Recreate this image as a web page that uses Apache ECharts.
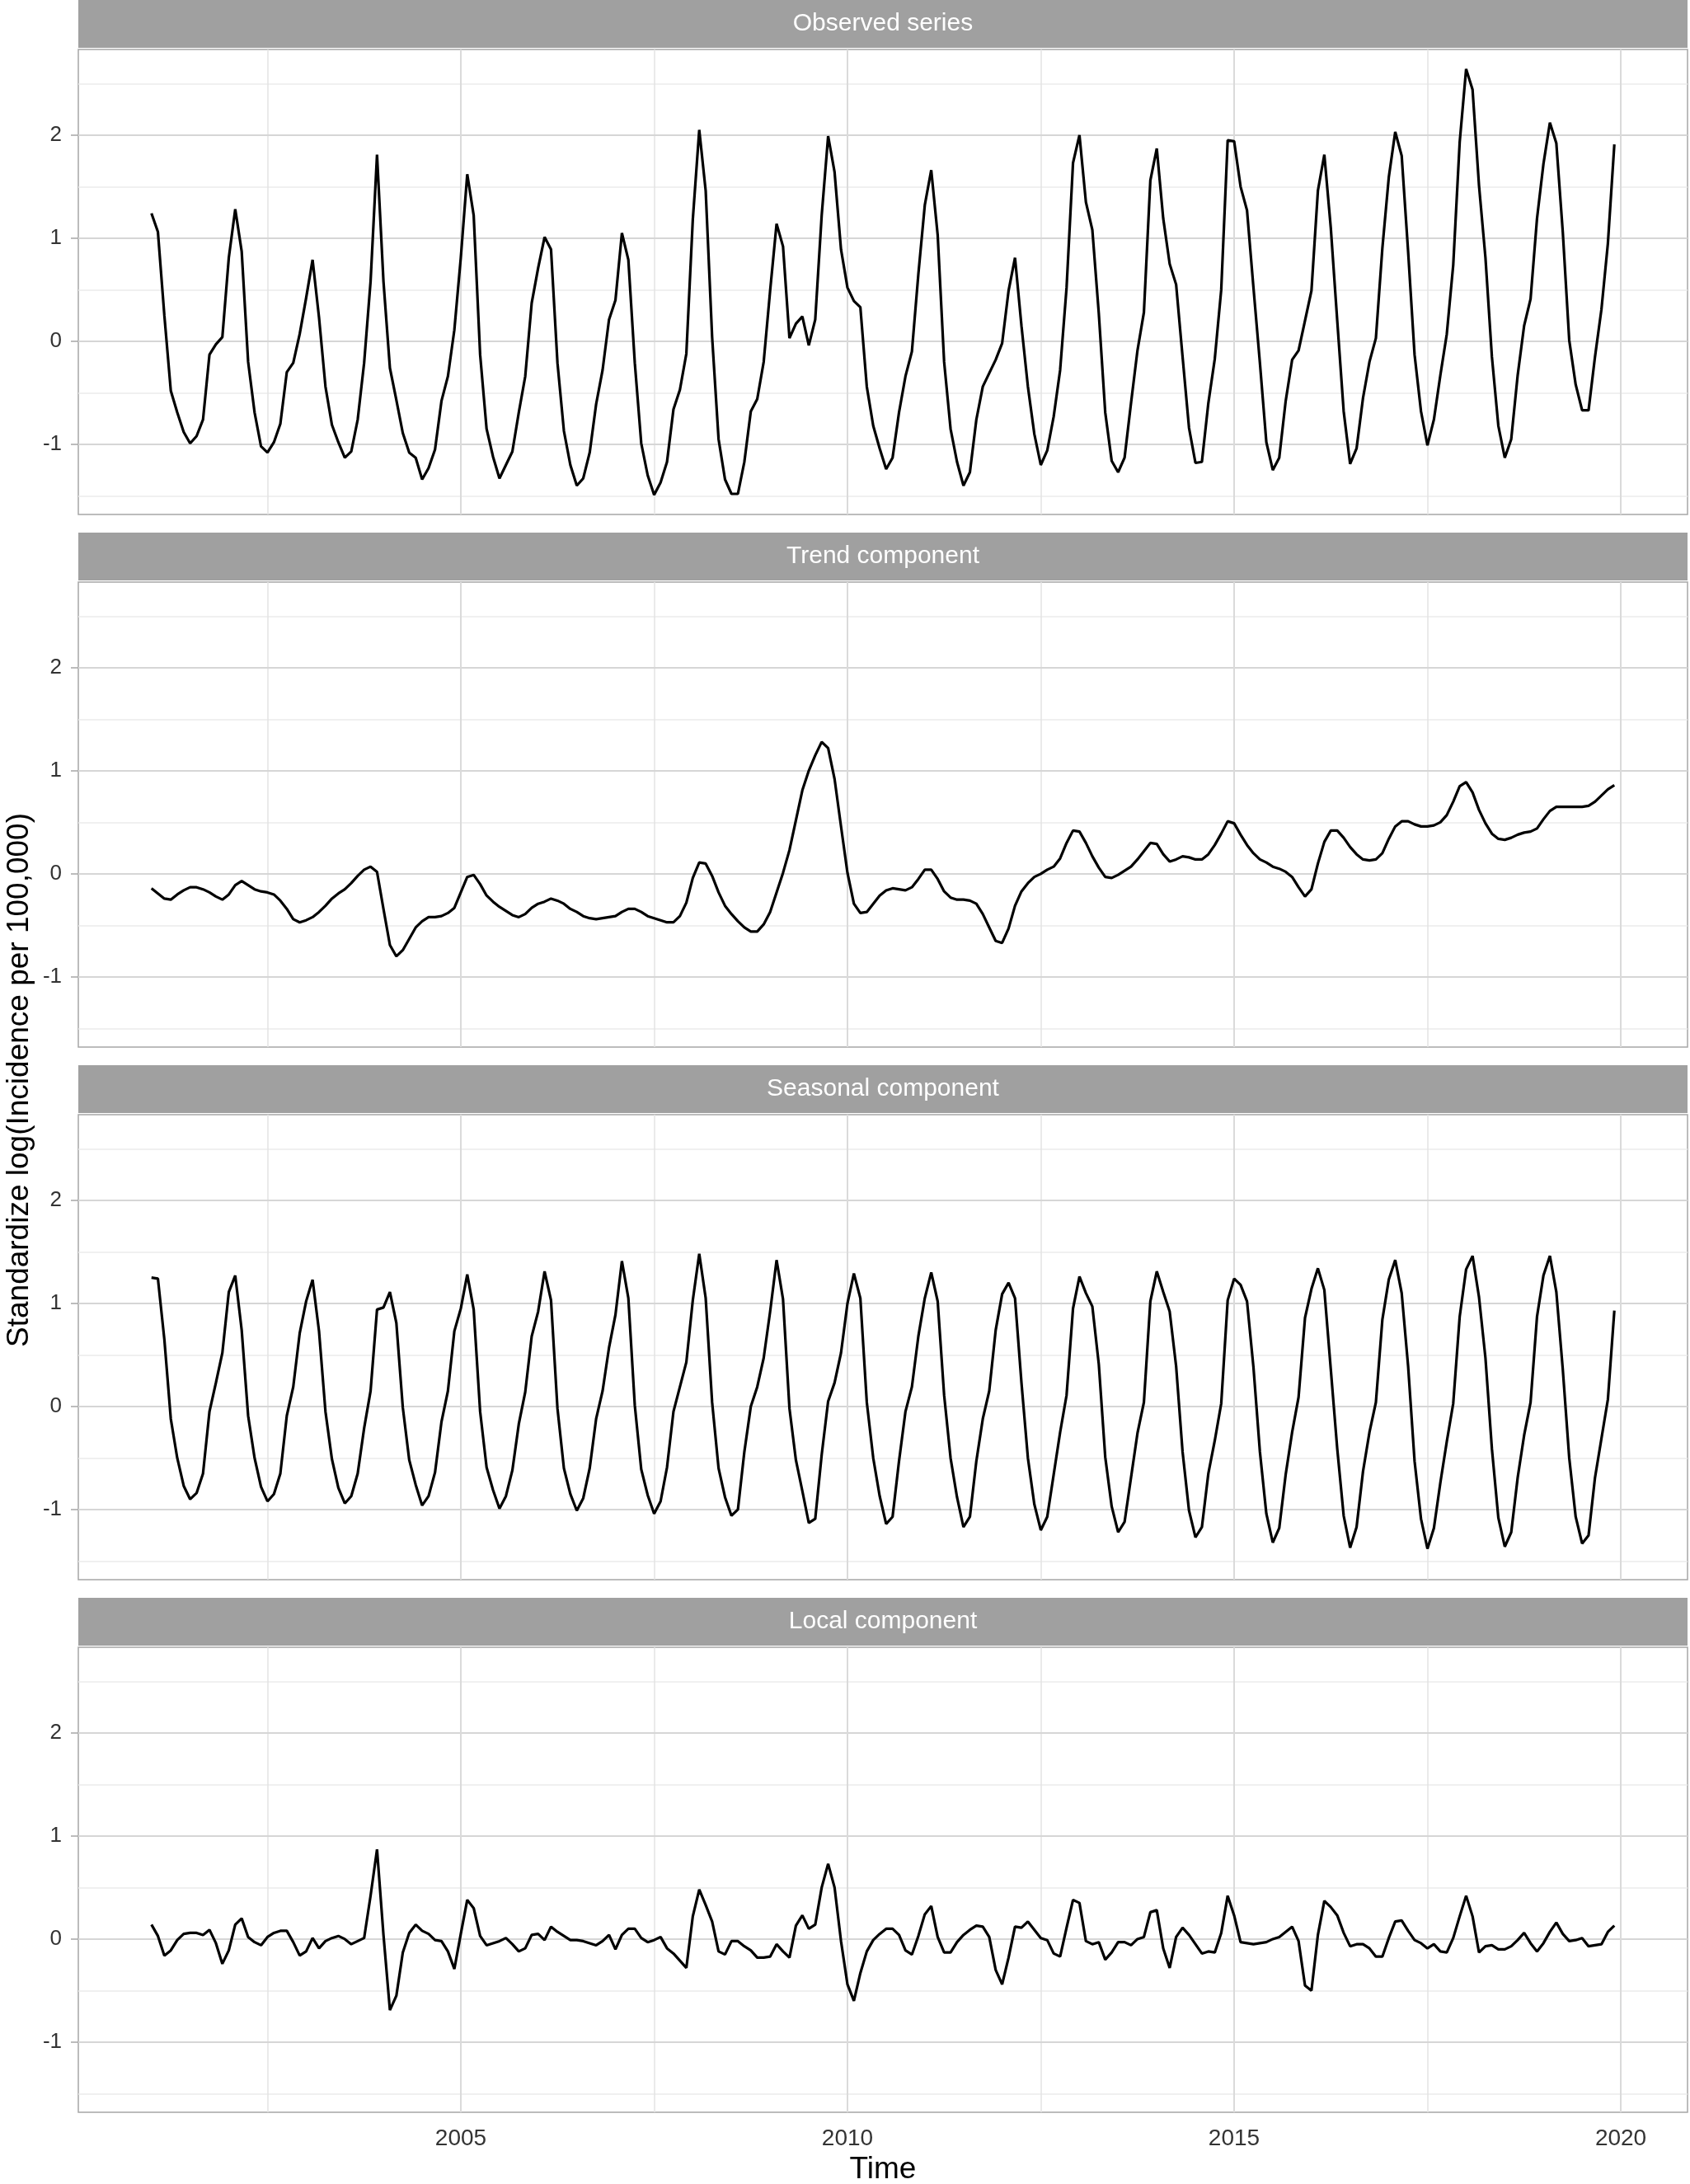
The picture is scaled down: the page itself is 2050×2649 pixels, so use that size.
<!DOCTYPE html>
<html>
<head>
<meta charset="utf-8">
<script src="https://cdn.jsdelivr.net/npm/echarts@6/dist/echarts.min.js"></script>
<style>
  html, body { margin: 0; padding: 0; background: #fff; }
  #main { width: 2050px; height: 2649px; }
</style>
</head>
<body>
<div id="main"></div>
<script>
// monthly values, Jan 2001 .. Dec 2019
const startYear = 2001;
const observed = [
  1.24, 1.06, 0.25, -0.48, -0.69, -0.88, -0.99, -0.92, -0.76, -0.13, -0.03, 0.04,
  0.81, 1.28, 0.87, -0.20, -0.69, -1.02, -1.08, -0.98, -0.80, -0.30, -0.21, 0.07,
  0.42, 0.79, 0.23, -0.44, -0.81, -0.98, -1.13, -1.07, -0.76, -0.21, 0.58, 1.81,
  0.58, -0.26, -0.57, -0.89, -1.08, -1.13, -1.34, -1.23, -1.05, -0.58, -0.34, 0.11,
  0.81, 1.62, 1.22, -0.13, -0.85, -1.12, -1.33, -1.20, -1.07, -0.69, -0.34, 0.37,
  0.71, 1.01, 0.89, -0.21, -0.87, -1.20, -1.40, -1.33, -1.08, -0.61, -0.28, 0.21,
  0.40, 1.05, 0.79, -0.21, -0.99, -1.30, -1.49, -1.37, -1.17, -0.66, -0.47, -0.12,
  1.18, 2.05, 1.46, 0.04, -0.95, -1.34, -1.48, -1.48, -1.17, -0.68, -0.56, -0.20,
  0.49, 1.14, 0.92, 0.03, 0.17, 0.24, -0.04, 0.21, 1.22, 1.99, 1.64, 0.89,
  0.52, 0.39, 0.33, -0.44, -0.82, -1.04, -1.24, -1.13, -0.69, -0.34, -0.10, 0.65,
  1.32, 1.66, 1.03, -0.20, -0.85, -1.17, -1.40, -1.27, -0.76, -0.44, -0.31, -0.18,
  -0.02, 0.49, 0.81, 0.15, -0.44, -0.90, -1.20, -1.06, -0.73, -0.28, 0.52, 1.73,
  2.00, 1.35, 1.08, 0.27, -0.69, -1.16, -1.27, -1.13, -0.60, -0.09, 0.28, 1.56,
  1.87, 1.19, 0.75, 0.55, -0.15, -0.84, -1.18, -1.17, -0.60, -0.17, 0.50, 1.95,
  1.94, 1.50, 1.27, 0.52, -0.21, -0.98, -1.25, -1.13, -0.58, -0.18, -0.09, 0.20,
  0.49, 1.46, 1.81, 1.10, 0.20, -0.68, -1.19, -1.04, -0.55, -0.20, 0.03, 0.90,
  1.59, 2.03, 1.80, 0.87, -0.13, -0.68, -1.01, -0.76, -0.33, 0.07, 0.74, 1.93,
  2.64, 2.44, 1.51, 0.81, -0.15, -0.82, -1.13, -0.95, -0.33, 0.15, 0.41, 1.19,
  1.72, 2.12, 1.92, 1.06, 0.01, -0.42, -0.67, -0.67, -0.15, 0.31, 0.95, 1.91
];
const trend = [
  -0.14, -0.19, -0.24, -0.25, -0.20, -0.16, -0.13, -0.13, -0.15, -0.18, -0.22, -0.25,
  -0.20, -0.11, -0.07, -0.11, -0.15, -0.17, -0.18, -0.20, -0.26, -0.34, -0.44, -0.47,
  -0.45, -0.42, -0.37, -0.31, -0.24, -0.19, -0.15, -0.09, -0.02, 0.04, 0.07, 0.02,
  -0.34, -0.69, -0.80, -0.74, -0.63, -0.52, -0.46, -0.42, -0.42, -0.41, -0.38, -0.33,
  -0.18, -0.03, -0.01, -0.10, -0.21, -0.27, -0.32, -0.36, -0.40, -0.42, -0.39, -0.33,
  -0.29, -0.27, -0.24, -0.26, -0.29, -0.34, -0.37, -0.41, -0.43, -0.44, -0.43, -0.42,
  -0.41, -0.37, -0.34, -0.34, -0.37, -0.41, -0.43, -0.45, -0.47, -0.47, -0.41, -0.28,
  -0.04, 0.11, 0.10, -0.02, -0.18, -0.31, -0.39, -0.46, -0.52, -0.56, -0.56, -0.49,
  -0.37, -0.18, 0.01, 0.23, 0.52, 0.81, 1.00, 1.15, 1.28, 1.22, 0.92, 0.46,
  0.01, -0.29, -0.38, -0.37, -0.29, -0.21, -0.16, -0.14, -0.15, -0.16, -0.13, -0.05,
  0.04, 0.04, -0.05, -0.17, -0.23, -0.25, -0.25, -0.26, -0.29, -0.39, -0.52, -0.65,
  -0.67, -0.53, -0.31, -0.17, -0.09, -0.03, 0.00, 0.04, 0.07, 0.15, 0.30, 0.42,
  0.41, 0.30, 0.17, 0.06, -0.03, -0.04, -0.01, 0.03, 0.07, 0.14, 0.22, 0.30,
  0.29, 0.19, 0.12, 0.14, 0.17, 0.16, 0.14, 0.14, 0.19, 0.28, 0.39, 0.51,
  0.49, 0.38, 0.28, 0.20, 0.14, 0.11, 0.07, 0.05, 0.02, -0.03, -0.13, -0.22,
  -0.15, 0.10, 0.31, 0.42, 0.42, 0.35, 0.26, 0.19, 0.14, 0.13, 0.14, 0.20,
  0.34, 0.46, 0.51, 0.51, 0.48, 0.46, 0.46, 0.47, 0.50, 0.57, 0.70, 0.85,
  0.89, 0.79, 0.62, 0.49, 0.39, 0.34, 0.33, 0.35, 0.38, 0.40, 0.41, 0.44,
  0.53, 0.61, 0.65, 0.65, 0.65, 0.65, 0.65, 0.66, 0.70, 0.76, 0.82, 0.86
];
const seasonal = [
  1.25, 1.24, 0.65, -0.12, -0.50, -0.77, -0.90, -0.84, -0.65, -0.05, 0.23, 0.52,
  1.11, 1.27, 0.74, -0.09, -0.50, -0.78, -0.92, -0.85, -0.65, -0.09, 0.19, 0.71,
  1.02, 1.23, 0.73, -0.05, -0.51, -0.79, -0.94, -0.87, -0.65, -0.21, 0.15, 0.94,
  0.96, 1.11, 0.81, -0.01, -0.52, -0.76, -0.96, -0.87, -0.64, -0.15, 0.15, 0.73,
  0.95, 1.28, 0.94, -0.05, -0.59, -0.81, -0.99, -0.87, -0.62, -0.17, 0.14, 0.68,
  0.92, 1.31, 1.03, -0.02, -0.60, -0.85, -1.01, -0.89, -0.60, -0.12, 0.15, 0.57,
  0.89, 1.41, 1.05, 0.01, -0.61, -0.86, -1.04, -0.92, -0.59, -0.05, 0.19, 0.43,
  1.03, 1.48, 1.05, 0.04, -0.60, -0.88, -1.06, -1.00, -0.44, 0.00, 0.19, 0.47,
  0.92, 1.42, 1.04, -0.02, -0.52, -0.82, -1.13, -1.09, -0.47, 0.05, 0.23, 0.52,
  1.00, 1.29, 1.05, 0.04, -0.50, -0.87, -1.14, -1.07, -0.53, -0.05, 0.19, 0.68,
  1.05, 1.30, 1.02, 0.11, -0.50, -0.88, -1.17, -1.07, -0.53, -0.12, 0.15, 0.74,
  1.09, 1.20, 1.05, 0.23, -0.50, -0.95, -1.20, -1.07, -0.66, -0.25, 0.11, 0.95,
  1.26, 1.10, 0.97, 0.41, -0.49, -0.97, -1.22, -1.12, -0.69, -0.26, 0.04, 1.02,
  1.31, 1.11, 0.92, 0.39, -0.44, -1.01, -1.27, -1.17, -0.65, -0.33, 0.03, 1.03,
  1.24, 1.18, 1.02, 0.38, -0.44, -1.04, -1.32, -1.18, -0.66, -0.25, 0.09, 0.86,
  1.14, 1.34, 1.13, 0.36, -0.41, -1.06, -1.37, -1.17, -0.63, -0.25, 0.04, 0.84,
  1.23, 1.42, 1.10, 0.39, -0.53, -1.09, -1.38, -1.18, -0.74, -0.34, 0.03, 0.87,
  1.33, 1.46, 1.06, 0.47, -0.41, -1.08, -1.36, -1.22, -0.69, -0.28, 0.04, 0.87,
  1.27, 1.46, 1.11, 0.36, -0.50, -1.07, -1.33, -1.25, -0.69, -0.31, 0.07, 0.93
];
const local = [
  0.14, 0.03, -0.16, -0.11, -0.01, 0.05, 0.06, 0.06, 0.04, 0.09, -0.04, -0.24,
  -0.11, 0.14, 0.20, 0.02, -0.03, -0.06, 0.02, 0.06, 0.08, 0.08, -0.03, -0.16,
  -0.12, 0.01, -0.09, -0.02, 0.01, 0.03, 0.00, -0.05, -0.02, 0.01, 0.42, 0.87,
  0.04, -0.69, -0.55, -0.13, 0.06, 0.14, 0.08, 0.05, -0.01, -0.02, -0.12, -0.29,
  0.05, 0.38, 0.30, 0.03, -0.06, -0.04, -0.02, 0.01, -0.05, -0.12, -0.09, 0.04,
  0.05, -0.01, 0.12, 0.07, 0.03, -0.01, -0.01, -0.02, -0.04, -0.06, -0.02, 0.04,
  -0.10, 0.04, 0.10, 0.10, 0.01, -0.03, -0.01, 0.02, -0.09, -0.14, -0.21, -0.28,
  0.22, 0.48, 0.33, 0.17, -0.12, -0.15, -0.02, -0.02, -0.07, -0.11, -0.18, -0.18,
  -0.17, -0.05, -0.12, -0.18, 0.13, 0.23, 0.10, 0.14, 0.50, 0.73, 0.50, -0.02,
  -0.44, -0.60, -0.33, -0.12, -0.01, 0.05, 0.10, 0.10, 0.04, -0.11, -0.15, 0.03,
  0.24, 0.32, 0.02, -0.13, -0.13, -0.03, 0.04, 0.09, 0.13, 0.12, 0.02, -0.30,
  -0.44, -0.18, 0.12, 0.11, 0.17, 0.09, 0.01, -0.01, -0.14, -0.17, 0.11, 0.38,
  0.35, -0.02, -0.05, -0.03, -0.20, -0.13, -0.03, -0.03, -0.06, 0.00, 0.02, 0.26,
  0.28, -0.09, -0.28, 0.02, 0.11, 0.04, -0.05, -0.14, -0.12, -0.13, 0.06, 0.42,
  0.23, -0.03, -0.04, -0.05, -0.04, -0.03, 0.00, 0.02, 0.07, 0.12, -0.02, -0.45,
  -0.50, 0.04, 0.37, 0.31, 0.23, 0.06, -0.07, -0.05, -0.05, -0.09, -0.17, -0.17,
  0.01, 0.17, 0.18, 0.08, -0.01, -0.04, -0.09, -0.05, -0.12, -0.13, 0.01, 0.22,
  0.42, 0.22, -0.13, -0.07, -0.06, -0.10, -0.10, -0.07, -0.01, 0.06, -0.04, -0.12,
  -0.04, 0.07, 0.16, 0.05, -0.02, -0.01, 0.01, -0.07, -0.06, -0.05, 0.07, 0.13
];

const panelTitles = ['Observed series', 'Trend component', 'Seasonal component', 'Local component'];
const panelValues = [observed, trend, seasonal, local];

// axis ticks and grid lines
const yTicks = [-1, 0, 1, 2];
const yMinor = [-1.5, -0.5, 0.5, 1.5, 2.5];
const xTicks = [2005, 2010, 2015, 2020];
const xMinor = [2002.5, 2007.5, 2012.5, 2017.5];

const FONT = '"Liberation Sans", Arial, Helvetica, sans-serif';
const plotLeft = 95, plotWidth = 1952, plotHeight = 564;
const plotTops = [60, 706, 1352, 1998];

const chart = echarts.init(document.getElementById('main'), null, { renderer: 'canvas' });

const grids = [], xAxes = [], yAxes = [], series = [], graphics = [];

panelTitles.forEach((title, i) => {
  const last = i === panelTitles.length - 1;
  const top = plotTops[i];

  grids.push({
    left: plotLeft, top: top, width: plotWidth, height: plotHeight,
    outerBoundsMode: 'none', containLabel: false,
    show: true, backgroundColor: '#fff', borderColor: '#a6a6a6', borderWidth: 1.5
  });

  xAxes.push({
    type: 'value', gridIndex: i, min: 2000.054, max: 2020.863,
    splitLine: { show: false }, axisLine: { show: false },
    axisTick: { show: last, length: 9, customValues: xTicks, lineStyle: { color: '#a6a6a6', width: 1.5 } },
    axisLabel: {
      show: last, customValues: xTicks, margin: 18, fontSize: 28, color: '#333', fontFamily: FONT,
      formatter: v => (xTicks.indexOf(v) >= 0 ? String(v) : '')
    },
    name: last ? 'Time' : '', nameLocation: 'middle', nameGap: 51,
    nameTextStyle: { fontSize: 37, color: '#000', fontFamily: FONT }
  });

  yAxes.push({
    type: 'value', gridIndex: i, min: -1.68, max: 2.83,
    splitLine: { show: false }, axisLine: { show: false },
    axisTick: { show: true, length: 9, customValues: yTicks, lineStyle: { color: '#a6a6a6', width: 1.5 } },
    axisLabel: {
      customValues: yTicks, margin: 20, fontSize: 26, color: '#333', fontFamily: FONT,
      formatter: v => (yTicks.indexOf(v) >= 0 ? String(v) : '')
    }
  });

  const gridLines = [].concat(
    yMinor.map(v => ({ yAxis: v, lineStyle: { color: '#ebebeb', width: 1.5, type: 'solid' } })),
    xMinor.map(v => ({ xAxis: v, lineStyle: { color: '#e3e3e3', width: 1.5, type: 'solid' } })),
    yTicks.map(v => ({ yAxis: v, lineStyle: { color: '#d6d6d6', width: 2, type: 'solid' } })),
    xTicks.map(v => ({ xAxis: v, lineStyle: { color: '#dadada', width: 2, type: 'solid' } }))
  );

  series.push({
    type: 'line', name: title, xAxisIndex: i, yAxisIndex: i, z: 3,
    data: panelValues[i].map((v, k) => [startYear + k / 12, v]),
    showSymbol: false, symbol: 'none', smooth: false,
    lineStyle: { color: '#000', width: 3.2 },
    silent: true, animation: false,
    markLine: {
      silent: true, symbol: ['none', 'none'], animation: false, z: 1,
      label: { show: false }, emphasis: { disabled: true },
      data: gridLines
    }
  });

  // facet strip
  graphics.push({
    type: 'rect', left: plotLeft, top: top - 60, z: 10,
    shape: { width: plotWidth, height: 58 },
    style: { fill: '#a0a0a0' }
  });
  graphics.push({
    type: 'text', x: plotLeft + plotWidth / 2, y: top - 31, z: 11,
    style: {
      text: title, fill: '#fff', font: '30px ' + FONT,
      textAlign: 'center', textVerticalAlign: 'middle', align: 'center', verticalAlign: 'middle'
    }
  });
});

graphics.push({
  type: 'text', x: 24, y: 1310, rotation: Math.PI / 2, z: 11,
  style: {
    text: 'Standardize log(Incidence per 100,000)', fill: '#000', font: '37px ' + FONT,
    textAlign: 'center', textVerticalAlign: 'middle', align: 'center', verticalAlign: 'middle'
  }
});

chart.setOption({
  backgroundColor: '#fff',
  animation: false,
  grid: grids,
  xAxis: xAxes,
  yAxis: yAxes,
  series: series,
  graphic: { elements: graphics }
});
</script>
</body>
</html>
